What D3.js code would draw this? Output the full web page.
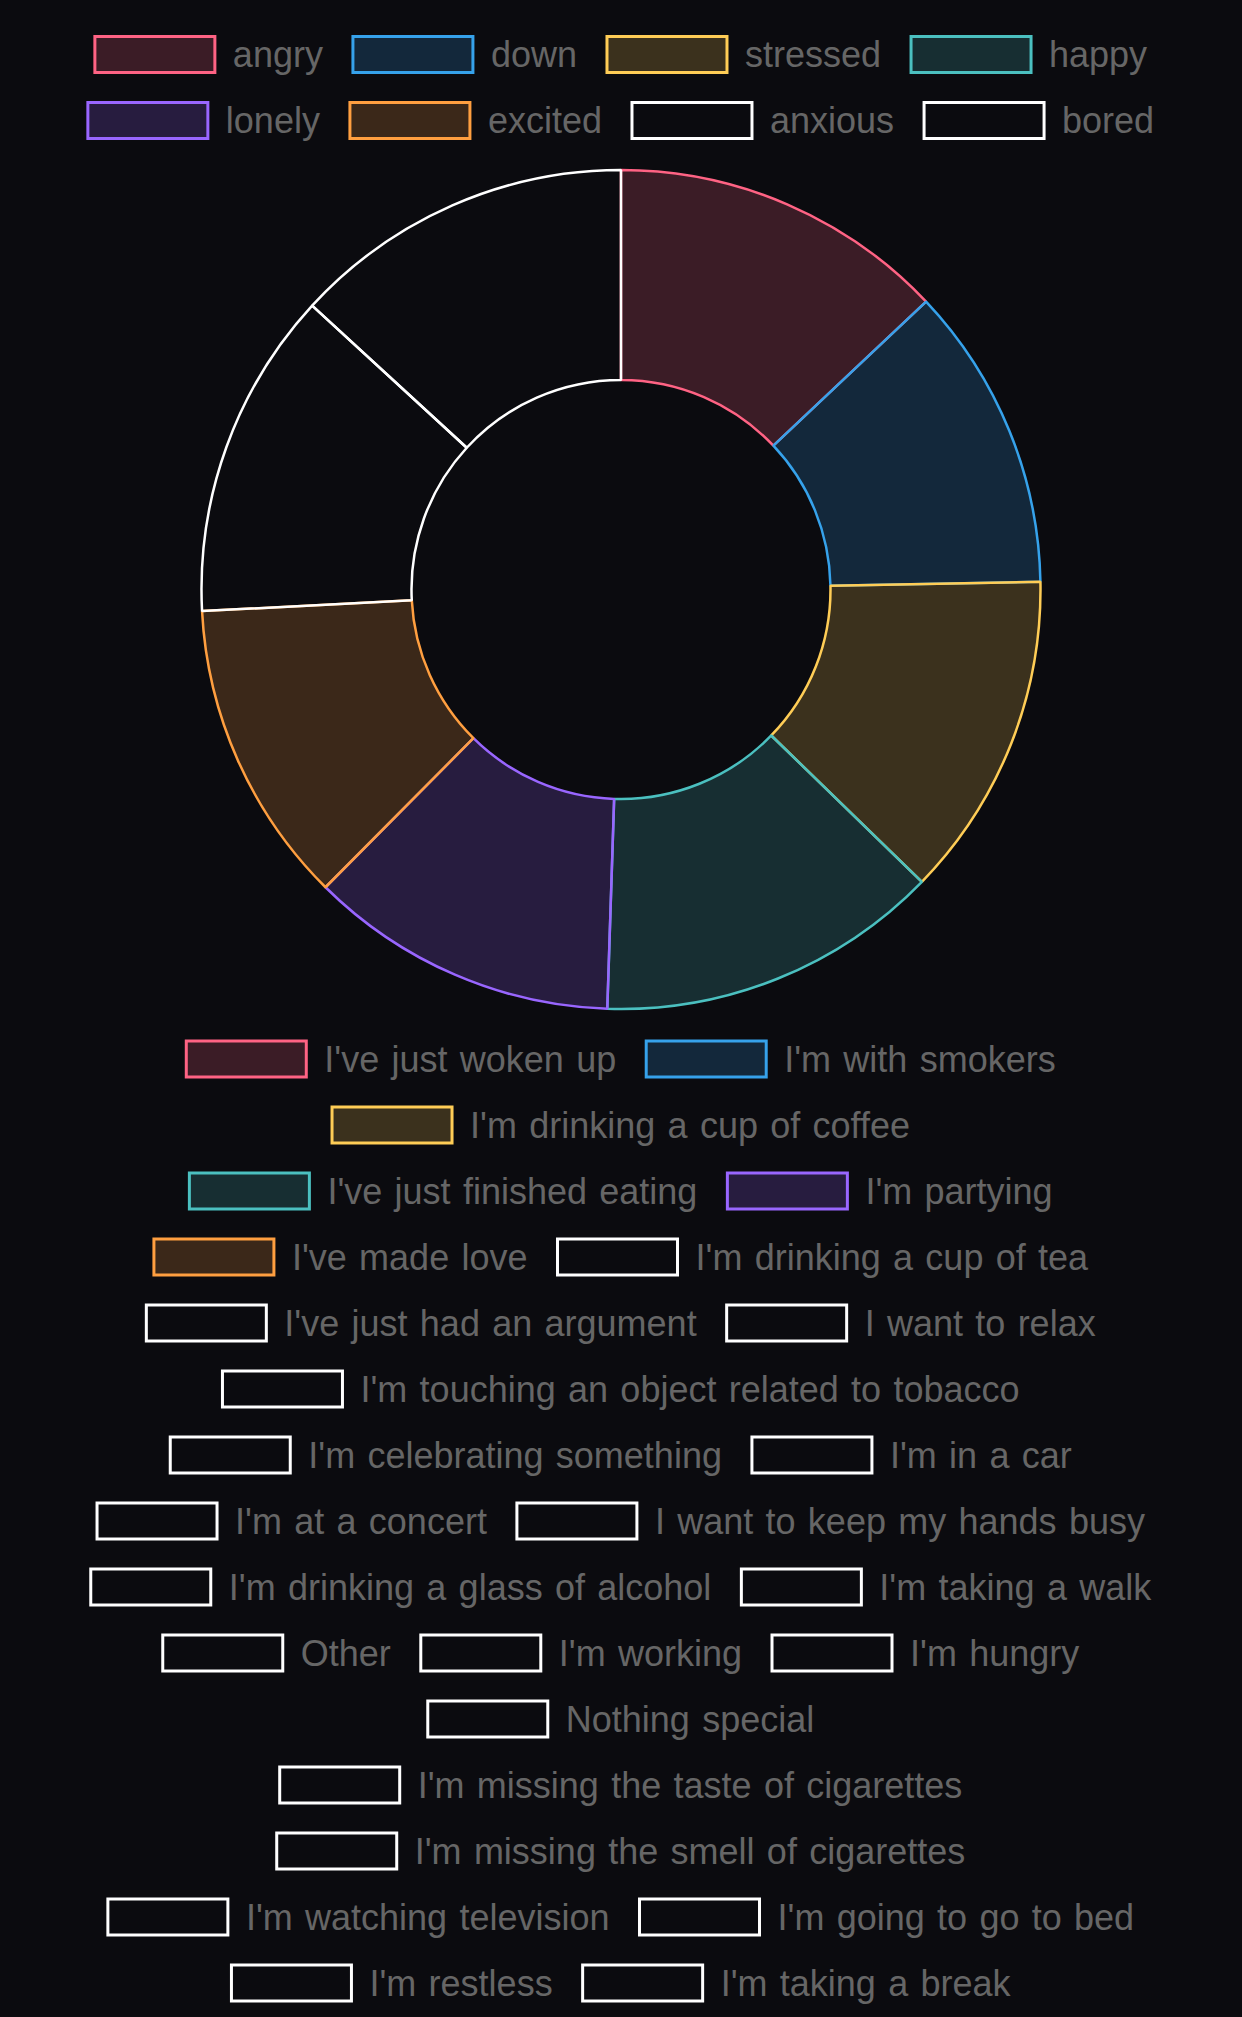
<!DOCTYPE html>
<html>
<head>
<meta charset="utf-8">
<script src="https://cdn.jsdelivr.net/npm/d3@7"></script>
<style>
  html, body { margin: 0; padding: 0; background: #0b0b0f; }
  svg { display: block; }
</style>
</head>
<body>
<div id="chart"></div>
<script>
// ---- data ----
const moods = ["angry", "down", "stressed", "happy", "lonely", "excited", "anxious", "bored"];
const moodValues = [12.96, 11.75, 12.56, 13.25, 11.92, 11.74, 12.65, 13.17];
const strokeColors = ["rgb(255,99,132)", "rgb(54,162,235)", "rgb(255,205,86)", "rgb(75,192,192)",
                      "rgb(153,102,255)", "rgb(255,159,64)", "#ffffff", "#ffffff"];
const fillColors = ["rgba(255,99,132,0.2)", "rgba(54,162,235,0.2)", "rgba(255,205,86,0.2)", "rgba(75,192,192,0.2)",
                    "rgba(153,102,255,0.2)", "rgba(255,159,64,0.2)", "rgba(0,0,0,0)", "rgba(0,0,0,0)"];
const situations = [
  "I've just woken up", "I'm with smokers", "I'm drinking a cup of coffee",
  "I've just finished eating", "I'm partying", "I've made love",
  "I'm drinking a cup of tea", "I've just had an argument", "I want to relax",
  "I'm touching an object related to tobacco", "I'm celebrating something", "I'm in a car",
  "I'm at a concert", "I want to keep my hands busy", "I'm drinking a glass of alcohol",
  "I'm taking a walk", "Other", "I'm working", "I'm hungry", "Nothing special",
  "I'm missing the taste of cigarettes", "I'm missing the smell of cigarettes",
  "I'm watching television", "I'm going to go to bed", "I'm restless", "I'm taking a break"
];

// ---- setup ----
const W = 1242, H = 2017;
const BG = "#0b0b0f";
const FONT_SIZE = 36;
const WORD_SP = 2.3;
const FONT = "'Liberation Sans', Arial, Helvetica, sans-serif";
const BOX_W = 120, BOX_H = 36, PAD = 30, ROW_H = 66, MAX_W = 1136;

const svg = d3.select("#chart").append("svg").attr("width", W).attr("height", H);
svg.append("rect").attr("width", W).attr("height", H).attr("fill", BG);

const strokeScale = d3.scaleOrdinal().domain(d3.range(strokeColors.length)).range(strokeColors).unknown("#ffffff");
const fillScale = d3.scaleOrdinal().domain(d3.range(fillColors.length)).range(fillColors).unknown("rgba(0,0,0,0)");

const ctx = document.createElement("canvas").getContext("2d");
ctx.font = FONT_SIZE + "px " + FONT;
const measure = t => ctx.measureText(t).width + WORD_SP * (t.split(" ").length - 1);

function drawLegend(labels, topY) {
  // Chart.js-like row wrapping
  const rows = [];
  let cur = [], curW = 0;
  labels.forEach((lab, i) => {
    const iw = BOX_W + FONT_SIZE / 2 + measure(lab);
    if (cur.length && curW + iw + 2 * PAD > MAX_W) {
      rows.push({ items: cur, width: curW });
      cur = []; curW = 0;
    }
    cur.push({ lab, i, iw });
    curW += iw + PAD;
  });
  if (cur.length) rows.push({ items: cur, width: curW });

  const g = svg.append("g");
  rows.forEach((row, r) => {
    const content = row.width - PAD;
    let x = (W - content) / 2;
    const y = topY + r * ROW_H;
    row.items.forEach(it => {
      g.append("rect")
        .attr("x", x).attr("y", y).attr("width", BOX_W).attr("height", BOX_H)
        .attr("fill", BG).attr("stroke", "none");
      g.append("rect")
        .attr("x", x).attr("y", y).attr("width", BOX_W).attr("height", BOX_H)
        .attr("fill", fillScale(it.i)).attr("stroke", strokeScale(it.i)).attr("stroke-width", 3);
      g.append("text")
        .attr("x", x + BOX_W + FONT_SIZE / 2).attr("y", y + BOX_H / 2)
        .attr("dominant-baseline", "central")
        .attr("font-family", FONT).attr("font-size", FONT_SIZE)
        .attr("word-spacing", WORD_SP)
        .attr("fill", "#666666")
        .text(it.lab);
      x += it.iw + PAD;
    });
  });
}

// top legend
drawLegend(moods, 36.5);

// donut
const cx = 621, cy = 589.5, R = 419.5, r0 = 209.5;
const pie = d3.pie().sort(null).value(d => d);
const arc = d3.arc().innerRadius(r0).outerRadius(R);
const gPie = svg.append("g").attr("transform", `translate(${cx},${cy})`);
gPie.selectAll("path")
  .data(pie(moodValues))
  .join("path")
  .attr("d", arc)
  .attr("fill", (d, i) => fillScale(i))
  .attr("stroke", (d, i) => strokeScale(i))
  .attr("stroke-width", 2.5)
  .attr("stroke-linejoin", "bevel");

// bottom legend
drawLegend(situations, 1041);
</script>
</body>
</html>
